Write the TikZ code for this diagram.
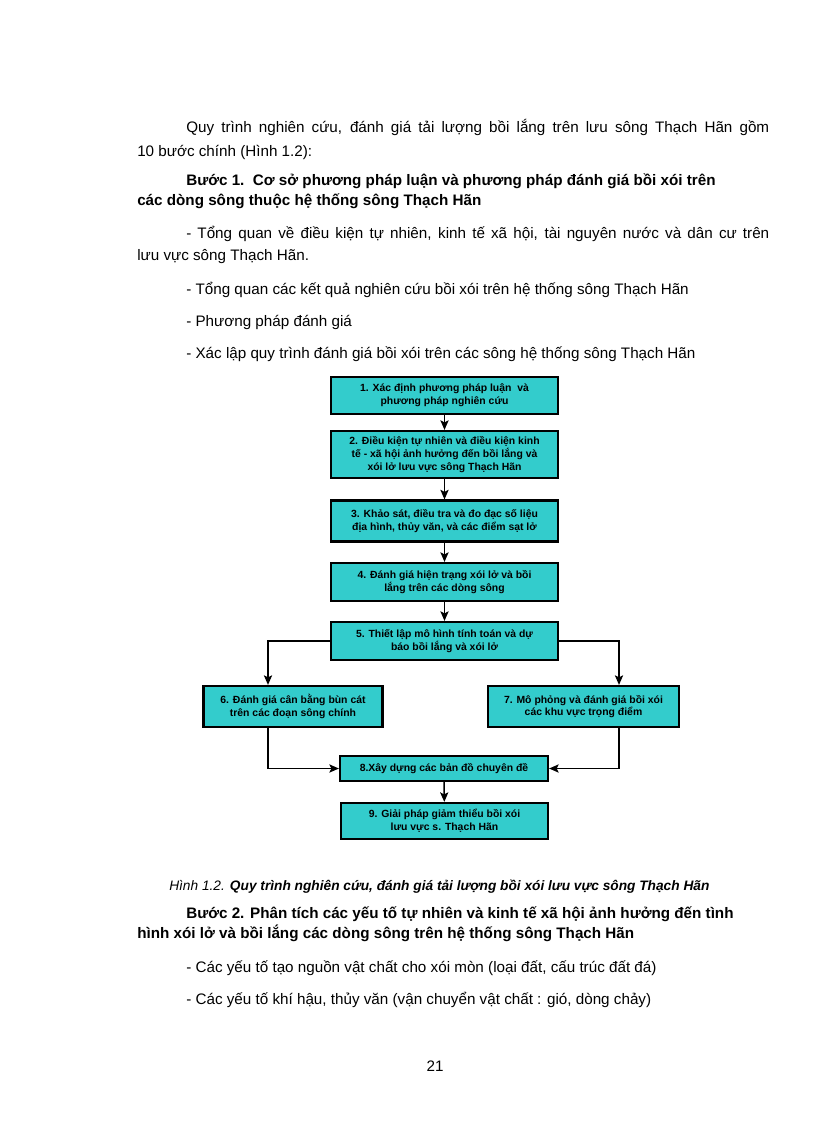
\documentclass[tikz,border=0pt]{standalone}
\usepackage{fontspec}
\setmainfont{Liberation Sans}
\usetikzlibrary{arrows.meta}
\definecolor{boxcyan}{RGB}{51,204,204}
\def\pxu{0.7295bp}
\begin{document}
\begin{tikzpicture}[x=\pxu,y=-\pxu,
  box/.style={draw,line width=1.6pt,fill=boxcyan,inner sep=0pt,align=center,font=\bfseries\fontsize{7.6bp}{9.2bp}\selectfont},
  txt/.style={anchor=base west,inner sep=0pt,font=\fontsize{11.1bp}{14bp}\selectfont},
  head/.style={txt,font=\bfseries\fontsize{11.1bp}{14bp}\selectfont},
  flow/.style={line width=1.1pt,-{Stealth[length=7pt,width=6pt,inset=1.5pt]}}]
\useasboundingbox[fill=white] (0,0) rectangle (816,1123);
\node[txt] (p1) at (186,133) {\makebox[425.3bp][s]{Quy trình nghiên cứu, đánh giá tải lượng bồi lắng trên lưu sông Thạch Hãn gồm}};
\node[txt] (p2) at (137,157) {10 bước chính (Hình 1.2):};
\node[head] (h1) at (186,186) {Bước 1.\ \ Cơ sở phương pháp luận và phương pháp đánh giá bồi xói trên};
\node[head] (h1b) at (137,205) {các dòng sông thuộc hệ thống sông Thạch Hãn};
\node[txt] (d1) at (186,238) {\makebox[425.3bp][s]{- Tổng quan về điều kiện tự nhiên, kinh tế xã hội, tài nguyên nước và dân cư trên}};
\node[txt] (d1b) at (137,260) {lưu vực sông Thạch Hãn.};
\node[txt] (d2) at (186,294) {- Tổng quan các kết quả nghiên cứu bồi xói trên hệ thống sông Thạch Hãn};
\node[txt] (d3) at (186,326) {- Phương pháp đánh giá};
\node[txt] (d4) at (186,358) {- Xác lập quy trình đánh giá bồi xói trên các sông hệ thống sông Thạch Hãn};
\node[box,minimum width=227*\pxu,minimum height=37*\pxu] (s1) at (444.5,395.5) {1. Xác định phương pháp luận\ \ và\\phương pháp nghiên cứu};
\node[box,minimum width=227*\pxu,minimum height=47*\pxu] (s2) at (444.5,454.5) {2. Điều kiện tự nhiên và điều kiện kinh\\tế - xã hội ảnh hưởng đến bồi lắng và\\xói lở lưu vực sông Thạch Hãn};
\node[box,minimum width=227*\pxu,minimum height=41*\pxu] (s3) at (444.5,521) {3. Khảo sát, điều tra và đo đạc số liệu\\địa hình, thủy văn, và các điểm sạt lở};
\node[box,minimum width=227*\pxu,minimum height=38*\pxu] (s4) at (444.5,582) {4. Đánh giá hiện trạng xói lở và bồi\\lắng trên các dòng sông};
\node[box,minimum width=227*\pxu,minimum height=38*\pxu] (s5) at (444.5,641) {5. Thiết lập mô hình tính toán và dự\\báo bồi lắng và xói lở};
\node[box,minimum width=179*\pxu,minimum height=41*\pxu] (s6) at (293,706.5) {6. Đánh giá cân bằng bùn cát\\trên các đoạn sông chính};
\node[box,minimum width=191*\pxu,minimum height=41*\pxu] (s7) at (583.5,706.5) {7. Mô phỏng và đánh giá bồi xói\\các khu vực trọng điểm};
\node[box,minimum width=208*\pxu,minimum height=25*\pxu] (s8) at (444,768.5) {8.Xây dựng các bản đồ chuyên đề};
\node[box,minimum width=207*\pxu,minimum height=36*\pxu] (s9) at (444.5,821) {9. Giải pháp giảm thiểu bồi xói\\lưu vực s. Thạch Hãn};
\coordinate (lx) at (268,0);
\coordinate (rx) at (619,0);
\draw[flow] (s1) -- (s2);
\draw[flow] (s2) -- (s3);
\draw[flow] (s3) -- (s4);
\draw[flow] (s4) -- (s5);
\draw[flow] (s5.west) -| (lx |- s6.north);
\draw[flow] (s5.east) -| (rx |- s7.north);
\draw[flow] (s6.south -| lx) |- (s8.west);
\draw[flow] (s7.south -| rx) |- (s8.east);
\draw[flow] (s8) -- (s9);
\node[anchor=base west,inner sep=0pt,font=\fontsize{10bp}{12bp}\selectfont\itshape] (cap) at (169,890) {Hình 1.2. {\bfseries Quy trình nghiên cứu, đánh giá tải lượng bồi xói lưu vực sông Thạch Hãn}};
\node[head] (h2) at (186,918) {Bước 2. Phân tích các yếu tố tự nhiên và kinh tế xã hội ảnh hưởng đến tình};
\node[head] (h2b) at (137,938) {hình xói lở và bồi lắng các dòng sông trên hệ thống sông Thạch Hãn};
\node[txt] (e1) at (186,972) {- Các yếu tố tạo nguồn vật chất cho xói mòn (loại đất, cấu trúc đất đá)};
\node[txt] (e2) at (186,1004) {- Các yếu tố khí hậu, thủy văn (vận chuyển vật chất : gió, dòng chảy)};
\node[txt,anchor=base] (pg) at (435,1071) {21};
\end{tikzpicture}
\end{document}
